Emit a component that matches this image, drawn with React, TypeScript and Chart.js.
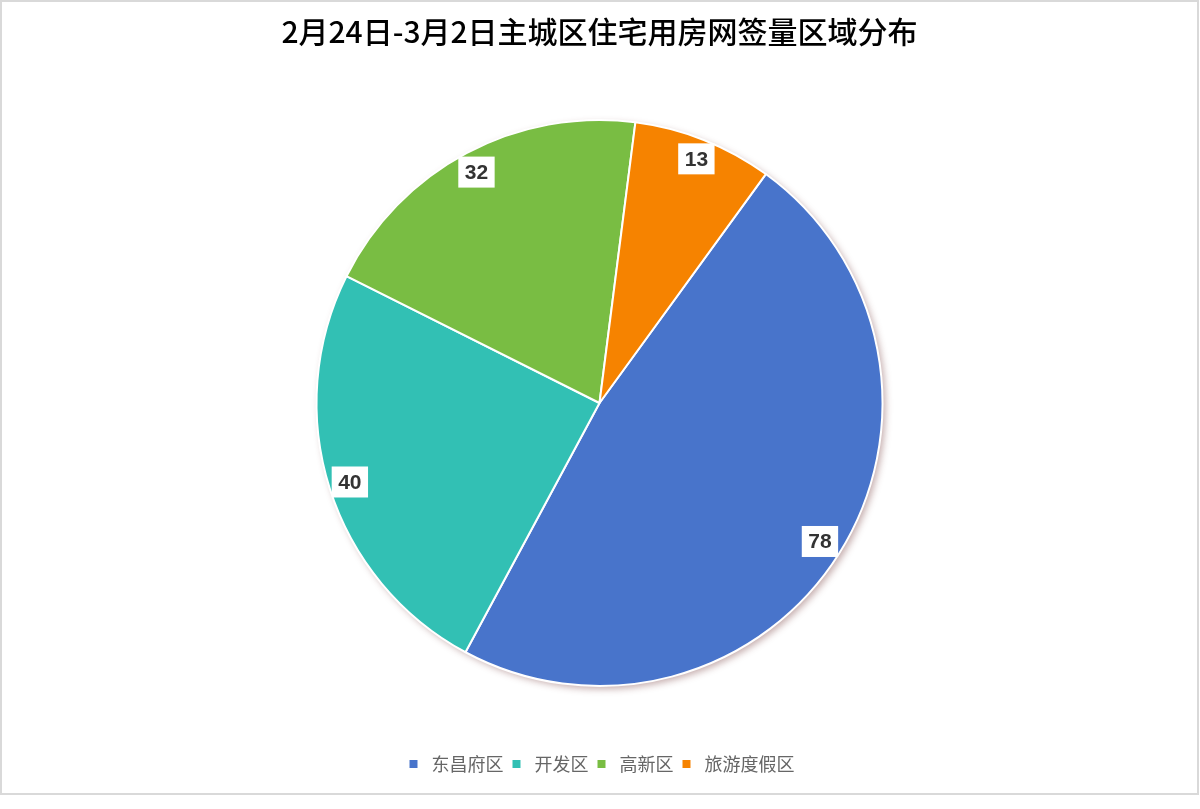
import { useEffect, useRef } from 'react';
import { Chart, registerables } from 'chart.js';

Chart.register(...registerables);

const districts = ['东昌府区', '开发区', '高新区', '旅游度假区'];
const signedCounts = [78, 40, 32, 13];
const sliceColors = ['#4874cb', '#32c0b4', '#79bd43', '#f68300'];
const chartTitle = '2月24日-3月2日主城区住宅用房网签量区域分布';

// soft shadow under the whole pie
const pieShadow = {
    id: 'pieShadow',
    beforeDatasetsDraw(chart: any) {
        const arc = chart.getDatasetMeta(0).data[0];
        if (!arc) return;
        const ctx = chart.ctx;
        ctx.save();
        ctx.shadowColor = 'rgba(110, 50, 50, 0.4)';
        ctx.shadowBlur = 7;
        ctx.shadowOffsetX = 3;
        ctx.shadowOffsetY = 3;
        ctx.beginPath();
        ctx.arc(arc.x, arc.y, arc.outerRadius, 0, Math.PI * 2);
        ctx.fillStyle = '#ffffff';
        ctx.fill();
        ctx.restore();
    }
};

// white boxed value labels, pushed out along the slice middle until the box corner meets the rim
const valueBoxes = {
    id: 'valueBoxes',
    afterDatasetsDraw(chart: any) {
        const ctx = chart.ctx;
        const meta = chart.getDatasetMeta(0);
        ctx.save();
        ctx.font = 'bold 21px "Liberation Sans", Arial, sans-serif';
        ctx.textAlign = 'center';
        ctx.textBaseline = 'middle';
        meta.data.forEach((arc: any, i: number) => {
            const mid = (arc.startAngle + arc.endAngle) / 2;
            const text = String(signedCounts[i]);
            const w = ctx.measureText(text).width + 13;
            const h = 31;
            const cos = Math.cos(mid);
            const sin = Math.sin(mid);
            const rim = arc.outerRadius + 1;
            const b = Math.abs(cos) * w / 2 + Math.abs(sin) * h / 2;
            const c = (w * w + h * h) / 4 - rim * rim;
            const r = -b + Math.sqrt(b * b - c);
            const x = arc.x + cos * r;
            const y = arc.y + sin * r;
            ctx.fillStyle = '#ffffff';
            ctx.fillRect(x - w / 2, y - h / 2, w, h);
            ctx.fillStyle = '#333333';
            ctx.fillText(text, x, y + 1);
        });
        ctx.restore();
    }
};

export default function App() {
    const chartRef = useRef<HTMLCanvasElement>(null);
    const chartInstance = useRef<Chart | null>(null);

    useEffect(() => {
        if (!chartRef.current) return;
        const ctx = chartRef.current.getContext('2d');
        if (!ctx) return;
        if (chartInstance.current) chartInstance.current.destroy();

        chartInstance.current = new Chart(ctx, {
            type: 'pie',
            data: {
                labels: districts,
                datasets: [
                    {
                        data: signedCounts,
                        backgroundColor: sliceColors,
                        borderColor: '#ffffff',
                        borderWidth: 2,
                        radius: 283
                    }
                ]
            },
            options: {
                animation: false,
                responsive: true,
                maintainAspectRatio: false,
                rotation: 36,
                layout: { padding: { top: 0, bottom: 10, left: 0, right: 0 } },
                plugins: {
                    title: {
                        display: true,
                        text: chartTitle,
                        color: '#000000',
                        font: { family: '"Noto Sans CJK SC", sans-serif', size: 30, weight: 500 },
                        padding: { top: 12, bottom: 5 }
                    },
                    legend: {
                        display: true,
                        position: 'bottom',
                        labels: {
                            usePointStyle: true,
                            pointStyle: 'rect',
                            boxWidth: 18,
                            boxHeight: 10,
                            padding: 4,
                            color: '#666666',
                            font: { family: '"Noto Sans CJK SC", sans-serif', size: 18 }
                        }
                    },
                    tooltip: { enabled: false }
                }
            },
            plugins: [pieShadow, valueBoxes]
        });

        return () => {
            if (chartInstance.current) {
                chartInstance.current.destroy();
                chartInstance.current = null;
            }
        };
    }, []);

    return (
        <div style={{ position: 'fixed', left: 0, top: 0, width: 1200, height: 809, background: '#fff' }}>
            <div
                style={{
                    position: 'absolute',
                    left: 0,
                    top: 0,
                    width: 1199,
                    height: 795,
                    boxSizing: 'border-box',
                    border: '2px solid #d9d9d9'
                }}
            >
                <div style={{ position: 'relative', width: 1195, height: 791 }}>
                    <canvas ref={chartRef}></canvas>
                </div>
            </div>
        </div>
    );
}
